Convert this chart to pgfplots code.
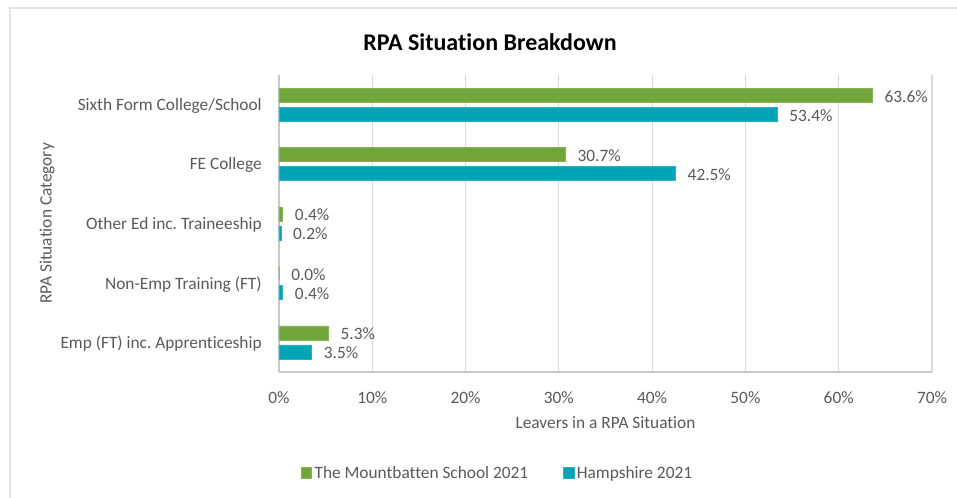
\documentclass[border=0pt]{standalone}
\usepackage{pgfplots}
\pgfplotsset{compat=1.18}
\usepackage{fontspec}
\setmainfont{Carlito}[Ligatures={NoCommon}]
\definecolor{cgreen}{HTML}{6FA53B}
\definecolor{cteal}{HTML}{00A4B6}
\definecolor{ctext}{HTML}{595959}
\definecolor{cgrid}{HTML}{D9D9D9}
\definecolor{cframe}{HTML}{E3E3E3}
\begin{document}
\begin{tikzpicture}
\useasboundingbox (0pt,0pt) rectangle (717.75pt,372.75pt);
\draw[cframe, line width=1.5pt] (7.5pt,-5pt) -- (7.5pt,366.75pt) -- (730pt,366.75pt);
\node[font=\fontsize{18}{20}\selectfont\bfseries, text=black] at (367.5pt,341.25pt) {RPA Situation Breakdown};
\begin{axis}[
  at={(209.25pt,93.75pt)}, anchor=south west,
  scale only axis, width=489.75pt, height=222.75pt,
  xbar, bar width=10.5pt,
  xmin=0, xmax=70, ymin=-0.5, ymax=4.5, y dir=reverse,
  xtick={0,10,...,70},
  xticklabels={0\%,10\%,20\%,30\%,40\%,50\%,60\%,70\%},
  ytick={0,1,2,3,4},
  yticklabels={Sixth Form College/School, FE College, Other Ed inc.\ Traineeship, Non-Emp Training (FT), Emp (FT) inc.\ Apprenticeship},
  major tick length=0pt,
  axis x line*=bottom, axis y line*=left,
  axis line style={draw=cgrid!80!gray, line width=0.8pt},
  xmajorgrids, grid style={cgrid, line width=0.8pt},
  tick label style={font=\fontsize{13}{15}\selectfont, text=ctext},
  xticklabel style={anchor=center, yshift=-19pt},
  yticklabel style={anchor=east, inner sep=0pt, xshift=-12.75pt, yshift=-1pt},
  xlabel={Leavers in a RPA Situation},
  ylabel={RPA Situation Category},
  label style={font=\fontsize{13}{15}\selectfont, text=ctext},
  xlabel style={at={(axis description cs:0.5,-0.172)}, anchor=center},
  ylabel style={at={(axis description cs:-0.355,0.5)}, anchor=center},
  nodes near coords={\pgfmathprintnumber[fixed,fixed zerofill,precision=1]{\pgfplotspointmeta}\%},
  point meta=x,
  /pgf/number format/assume math mode=true,
  nodes near coords style={anchor=west, inner sep=0pt, xshift=9pt, yshift=-0.75pt, font=\fontsize{13}{15}\selectfont, text=ctext},
  legend style={at={(axis description cs:0.335,-0.34)}, anchor=center, draw=none, legend columns=2, font=\fontsize{13}{15}\selectfont, text=ctext, /tikz/every even column/.append style={column sep=24pt}},
  legend image code/.code={\fill[#1] (0pt,-4pt) rectangle (8pt,4pt);},
  clip=false,
]
\addplot[fill=cgreen, draw=cgreen!85!white, bar shift=7.1pt] coordinates {(63.6,0) (30.7,1) (0.4,2) (0.0,3) (5.3,4)};
\addplot[fill=cteal, draw=cteal!85!white, bar shift=-7.1pt] coordinates {(53.4,0) (42.5,1) (0.2,2) (0.4,3) (3.5,4)};
\legend{The Mountbatten School 2021, Hampshire 2021}
\end{axis}
\end{tikzpicture}
\end{document}
